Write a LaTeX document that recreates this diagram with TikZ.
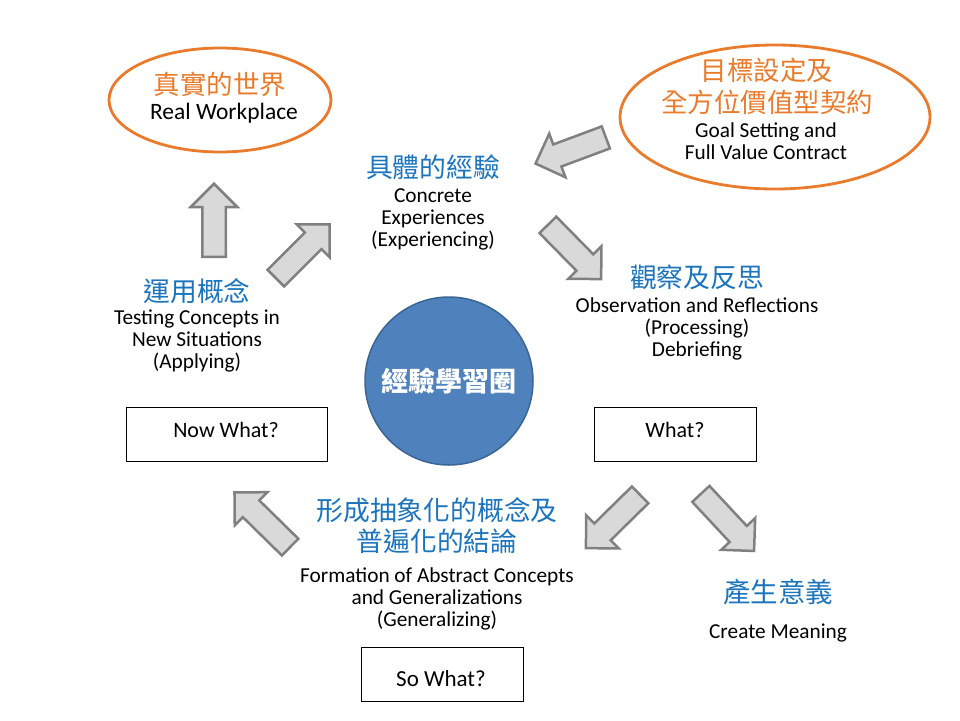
\documentclass[tikz,border=0pt]{standalone}
\usepackage{fontspec}
\setmainfont{Carlito}
\newfontfamily\cjk{Noto Sans CJK TC}
\usetikzlibrary{shapes.arrows,shapes.geometric}
\definecolor{myorange}{HTML}{E97B2C}
\definecolor{myblue}{HTML}{1C75BC}
\definecolor{circfill}{HTML}{4F81BD}
\definecolor{circdraw}{HTML}{3A6594}
\definecolor{arrfill}{HTML}{D9D9D9}
\definecolor{arrdraw}{HTML}{808080}
\begin{document}
\begin{tikzpicture}[x=1pt,y=-1pt,
  oval/.style={ellipse, draw=myorange, line width=2.8pt, inner sep=0pt},
  cjkblue/.style={font=\cjk\fontsize{26.8}{31}\selectfont, text=myblue, inner sep=0pt},
  cjkorange/.style={font=\cjk\fontsize{26.5}{31}\selectfont, text=myorange, inner sep=0pt},
  engtext/.style={font=\fontsize{21.3}{22}\selectfont, align=center, inner sep=0pt},
  qbox/.style={draw=black, line width=0.9pt, inner sep=0pt},
  qtext/.style={font=\fontsize{22}{24}\selectfont, inner sep=0pt},
  blockarrow/.style={single arrow, draw=arrdraw, fill=arrfill, line width=2.5pt,
    inner sep=0pt, inner ysep=10.5pt, single arrow head extend=11.5pt,
    single arrow tip angle=90, minimum width=44pt, anchor=tail}]
\useasboundingbox (0,0) rectangle (960,720);

% ellipses
\node[oval, minimum width=222pt, minimum height=104pt] (wp) at (220,100) {};
\node[cjkorange] (wpc) at (220,84) {真實的世界};
\node[engtext, font=\fontsize{23.5}{24}\selectfont] (wpe) at (224,113) {Real Workplace};

\node[oval, minimum width=310pt, minimum height=144pt] (gs) at (775,117) {};
\node[cjkorange] (gsc1) at (767,70) {目標設定及};
\node[cjkorange] (gsc2) at (767,102) {全方位價值型契約};
\node[engtext] (gse) at (766,141) {Goal Setting and\\Full Value Contract};

% concrete experiences
\node[cjkblue] (ce) at (433,167) {具體的經驗};
\node[engtext] (cee) at (433,219) {Concrete\\Experiences\\(Experiencing)};

% observation
\node[cjkblue] (ob) at (697,277) {觀察及反思};
\node[engtext] (obe) at (697,329) {Observation and Reflections\\(Processing)\\Debriefing};

% applying
\node[cjkblue] (ap) at (197,291) {運用概念};
\node[engtext] (ape) at (197,341) {Testing Concepts in\\New Situations\\(Applying)};

% generalizing
\node[cjkblue] (ge1) at (437,510) {形成抽象化的概念及};
\node[cjkblue] (ge2) at (437,541) {普遍化的結論};
\node[engtext] (gee) at (437,599) {Formation of Abstract Concepts\\and Generalizations\\(Generalizing)};

% create meaning
\node[cjkblue, font=\cjk\fontsize{27.5}{31}\selectfont] (cm) at (778,592) {產生意義};
\node[engtext] (cme) at (778,633) {Create Meaning};

% centre circle
\node[circle, draw=circdraw, line width=1.5pt, fill=circfill, minimum size=168pt,
  inner sep=0pt, text=white, font=\cjk\bfseries\fontsize{27}{31}\selectfont] (cyc) at (449,381) {經驗學習圈};

% question boxes
\node[qbox, minimum width=201pt, minimum height=54pt] (nw) at (226.5,434) {};
\node[qtext] (nwt) at (226,430) {Now What?};
\node[qbox, minimum width=162pt, minimum height=54pt] (wh) at (675,434) {};
\node[qtext] (wht) at (675,430) {What?};
\node[qbox, minimum width=162pt, minimum height=54pt] (sw) at (442,674) {};
\node[qtext, font=\fontsize{23}{24}\selectfont] (swt) at (441,679) {So What?};

% block arrows
\node[blockarrow, rotate=90, minimum height=73pt] (a1) at (214,258) {};
\node[blockarrow, rotate=45, minimum height=76pt] (a2) at (275,279) {};
\node[blockarrow, rotate=200.4, minimum height=75pt] (a3) at (607,137) {};
\node[blockarrow, rotate=-45.5, minimum height=76pt] (a4) at (547,224) {};
\node[blockarrow, rotate=224.5, minimum height=76pt] (a5) at (641,494) {};
\node[blockarrow, rotate=-47, minimum height=78pt] (a6) at (700,493) {};
\node[blockarrow, rotate=135.5, minimum height=78pt] (a7) at (291,548) {};
\end{tikzpicture}
\end{document}
